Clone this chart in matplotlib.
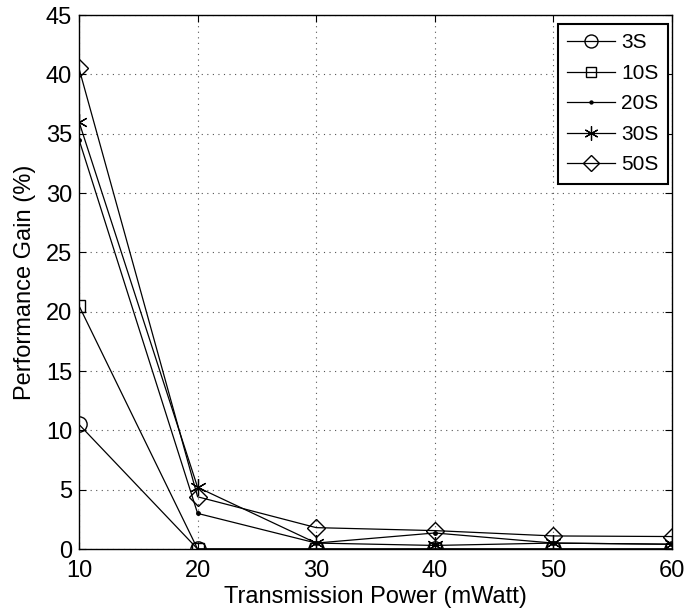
import matplotlib
matplotlib.use("Agg")
import matplotlib.pyplot as plt

plt.rcParams['font.family'] = ['Liberation Sans', 'DejaVu Sans']

power = [10, 20, 30, 40, 50, 60]
gain_3s = [10.5, 0, 0, 0, 0, 0]
gain_10s = [20.5, 0, 0, 0, 0, 0]
gain_20s = [34.5, 3.0, 0.5, 1.35, 0.5, 0.4]
gain_30s = [36.0, 5.2, 0.5, 0.3, 0.5, 0.4]
gain_50s = [40.5, 4.4, 1.8, 1.55, 1.1, 1.05]

fig = plt.figure(figsize=(6.91, 6.16), dpi=100)
ax = fig.add_axes([79 / 691, 1 - 549 / 616, (672 - 79) / 691, (549 - 15) / 616])

kw = dict(color='black', linewidth=0.9, markerfacecolor='none', markeredgecolor='black')
ax.plot(power, gain_3s, marker='o', markersize=11, label='3S', **kw)
ax.plot(power, gain_10s, marker='s', markersize=9, label='10S', **kw)
ax.plot(power, gain_20s, marker='.', markersize=5, label='20S', color='black',
        linewidth=0.9)
ax.plot(power, gain_30s, marker=(6, 2, 0), markersize=12, label='30S', color='black',
        linewidth=0.9, markeredgewidth=0.9)
ax.plot(power, gain_50s, marker='D', markersize=9, label='50S', **kw)

ax.set_xlim(10, 60)
ax.set_ylim(0, 45)
ax.set_xticks(power)
ax.set_yticks(range(0, 46, 5))
ax.grid(True, color='#555555', linestyle=(0, (1, 4)), linewidth=0.8)
ax.tick_params(direction='in', labelsize=17, top=True, right=True, length=5)
ax.tick_params(axis='x', pad=8)
ax.tick_params(axis='y', pad=5)
for s in ax.spines.values():
    s.set_linewidth(1.0)

ax.set_xlabel('Transmission Power (mWatt)', fontsize=17, labelpad=3)
ax.set_ylabel('Performance Gain (%)', fontsize=17, labelpad=7)

leg = ax.legend(loc='upper right', bbox_to_anchor=(0.993, 0.983), fontsize=15,
                fancybox=False, edgecolor='black', framealpha=1, handlelength=2.3,
                handletextpad=0.3, borderaxespad=0, labelspacing=0.55, borderpad=0.45,
                markerscale=0.85)
leg.get_frame().set_linewidth(1.5)

fig.savefig('out.png', dpi=100)
